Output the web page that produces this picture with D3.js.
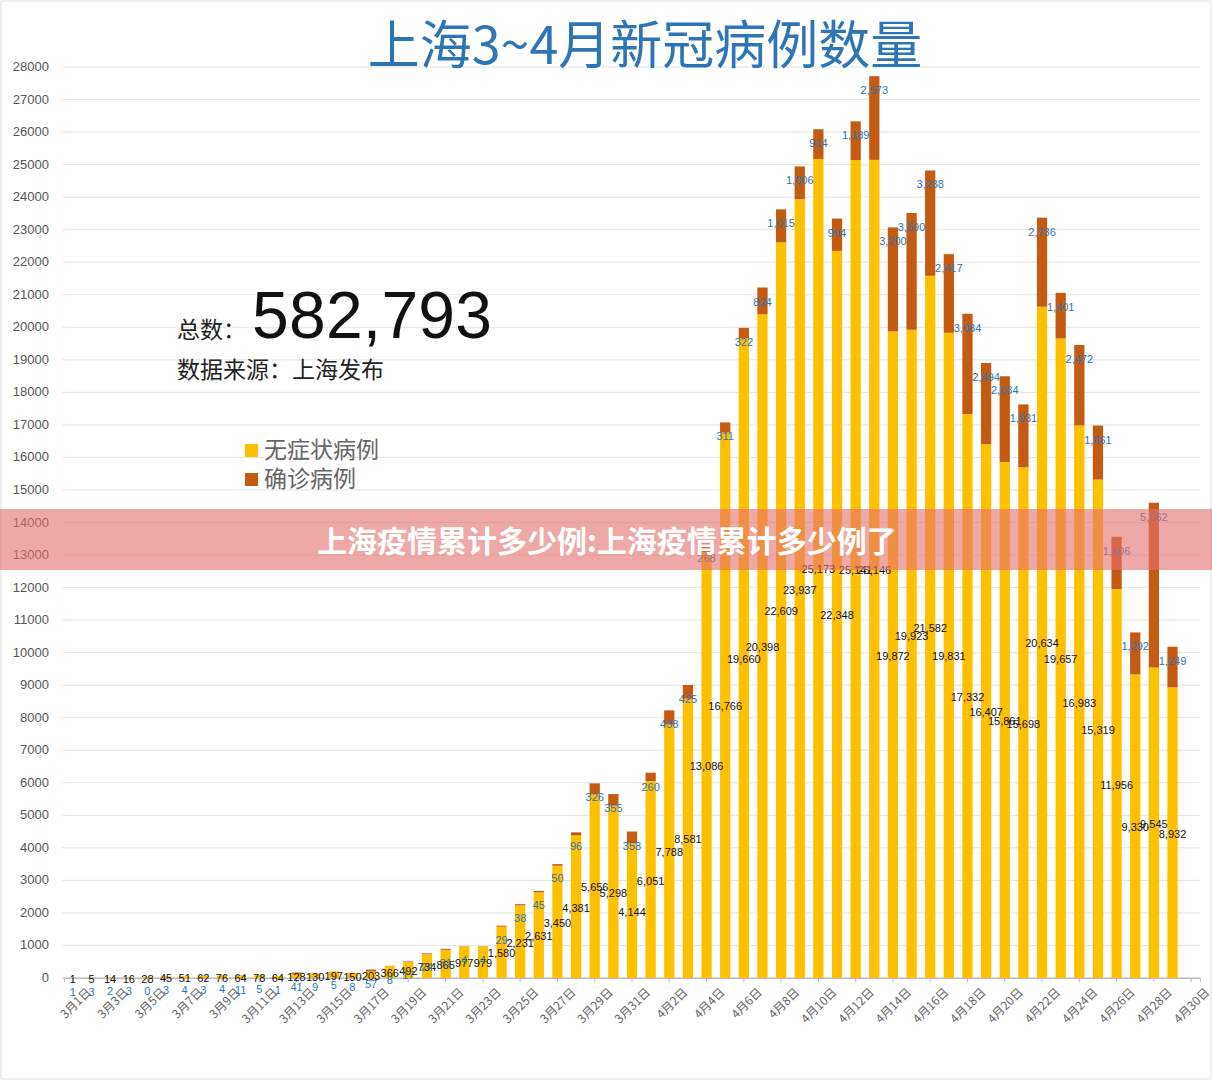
<!DOCTYPE html>
<html><head><meta charset="utf-8">
<script src="https://cdn.jsdelivr.net/npm/d3@7"></script>
<style>body{margin:0;background:#fff}svg{display:block;font-family:"Noto Sans CJK SC","Noto Sans",sans-serif}</style>
</head><body><svg id="c" width="1212" height="1080"></svg>
<script>
const dates = d3.range(61).map(i => i < 31 ? `3月${i+1}日` : `4月${i-30}日`);
const asymptomatic = [1,5,14,16,28,45,51,62,76,64,78,64,128,130,197,150,203,366,492,734,865,977,979,1580,2231,2631,3450,4381,5656,5298,4144,6051,7788,8581,13086,16766,19660,20398,22609,23937,25173,22348,25141,25146,19872,19923,21582,19831,17332,16407,15861,15698,20634,19657,16983,15319,11956,9330,9545,8932];
const confirmed = [1,3,2,3,0,3,4,3,4,11,5,1,41,9,5,8,57,8,17,24,31,4,4,29,38,45,50,96,326,355,358,260,438,425,268,311,322,824,1015,1006,914,994,1189,2573,3200,3590,3238,2417,3084,2494,2634,1931,2736,1401,2472,1661,1606,1292,5062,1249];
const yTicks = d3.range(0, 28001, 1000);

const svg = d3.select("#c");
svg.append("rect").attr("x",1).attr("y",1).attr("width",1210).attr("height",1078).attr("fill","#fff").attr("stroke","#ddd");
const x = d3.scaleBand().domain(dates).range([64,1200]).paddingInner(0.45).paddingOuter(0.2);
const y = d3.scaleLinear().domain([0,28000]).range([978,67]);
const fmt = d3.format(",");

svg.append("g").selectAll("line").data(yTicks).join("line")
  .attr("x1",62).attr("x2",1200).attr("y1",d=>y(d)).attr("y2",d=>y(d))
  .attr("stroke",d=>d===0?"#bbb":"#e3e3e3").attr("stroke-width",1);
svg.append("g").selectAll("text").data(yTicks).join("text")
  .attr("x",49).attr("y",d=>y(d)+4).attr("text-anchor","end")
  .attr("font-size",13).attr("fill","#555").attr("font-family","Liberation Sans, Arial").text(d=>d);
const xa = svg.append("g").attr("transform","translate(0,978)")
  .call(d3.axisBottom(x).tickValues(dates.filter((d,i)=>i%2===0)).tickSize(4));
xa.select(".domain").attr("stroke","#bbb");
xa.selectAll("line").attr("stroke","#bbb");
xa.selectAll("text").attr("font-size",12).attr("fill","#666")
  .attr("text-anchor","end").attr("transform","translate(8,4) rotate(-45)")
  .attr("font-family","Noto Sans CJK SC");

const data = asymptomatic.map((a,i)=>({d:dates[i],a,c:confirmed[i],i}));
const g = svg.append("g");
g.selectAll(".a").data(data).join("rect")
  .attr("x",d=>x(d.d)).attr("width",x.bandwidth())
  .attr("y",d=>y(d.a)).attr("height",d=>y(0)-y(d.a)).attr("fill","#FFC000");
g.selectAll(".c").data(data).join("rect")
  .attr("x",d=>x(d.d)).attr("width",x.bandwidth())
  .attr("y",d=>y(d.a+d.c)).attr("height",d=>y(d.a)-y(d.a+d.c)).attr("fill","#C55A11");
g.selectAll(".la").data(data).join("text")
  .attr("x",d=>x(d.d)+x.bandwidth()/2).attr("y",d=>Math.min(y(d.a/2),978)+5 - (d.i===45?19:0))
  .attr("text-anchor","middle").attr("font-size",11).attr("fill","#111")
  .attr("font-family","Liberation Sans, Arial").text(d=>fmt(d.a));
g.selectAll(".lc").data(data).join("text")
  .attr("x",d=>x(d.d)+x.bandwidth()/2).attr("y",d=>y(d.a+d.c)+18)
  .attr("text-anchor","middle").attr("font-size",11).attr("fill","#2E75B6")
  .attr("font-family","Liberation Sans, Arial").text(d=>fmt(d.c));

svg.append("text").attr("x",645).attr("y",64).attr("text-anchor","middle")
  .attr("font-size",52).attr("fill","#2E75B6").text("上海3~4月新冠病例数量");
svg.append("text").attr("x",177).attr("y",338).attr("font-size",23).attr("fill","#222").text("总数：");
svg.append("text").attr("x",252).attr("y",338).attr("font-size",66).attr("fill","#111")
  .attr("font-family","Liberation Sans, Arial").attr("textLength",240).text("582,793");
svg.append("text").attr("x",177).attr("y",378).attr("font-size",23).attr("fill","#222").text("数据来源：上海发布");
[["无症状病例","#FFC000"],["确诊病例","#C55A11"]].forEach((l,i)=>{
  svg.append("rect").attr("x",245).attr("y",444+i*29).attr("width",13).attr("height",13).attr("fill",l[1]);
  svg.append("text").attr("x",264).attr("y",458+i*29).attr("font-size",23).attr("fill","#666").text(l[0]);
});
svg.append("rect").attr("x",0).attr("y",509).attr("width",1212).attr("height",61).attr("fill","rgba(228,110,110,0.6)");
svg.append("text").attr("x",607).attr("y",552).attr("text-anchor","middle").attr("font-size",30)
  .attr("font-weight","bold").attr("fill","#fff").text("上海疫情累计多少例:上海疫情累计多少例了");
</script></body></html>
